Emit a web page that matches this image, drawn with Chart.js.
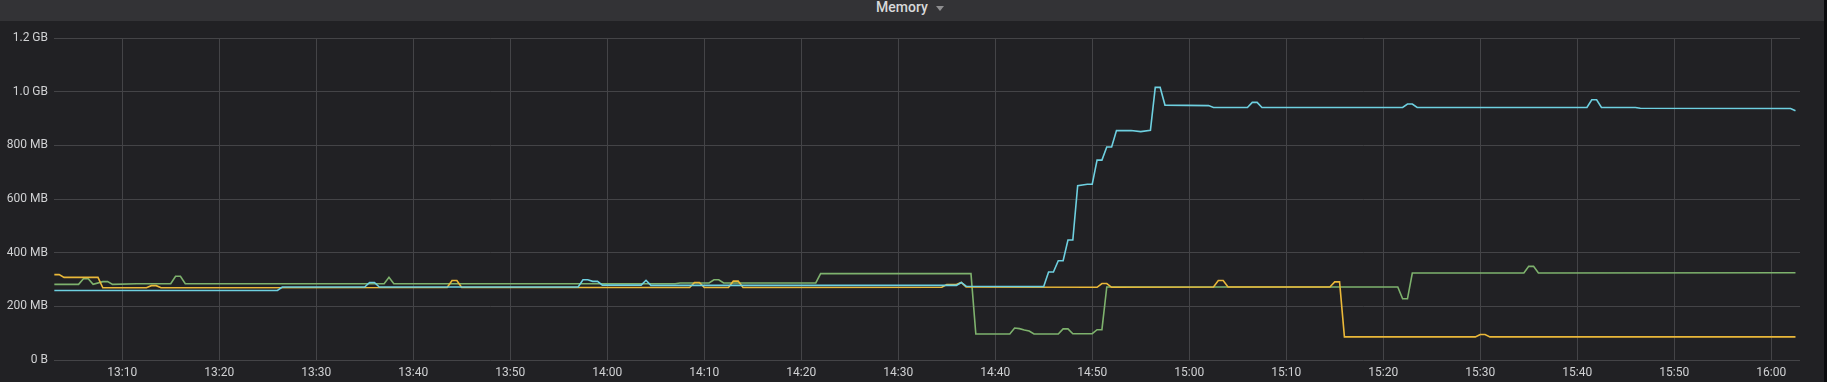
<!DOCTYPE html>
<html>
<head>
<meta charset="utf-8">
<title>Memory</title>
<script src="https://cdn.jsdelivr.net/npm/chart.js@4.4.1/dist/chart.umd.min.js"></script>
<style>
  html, body { margin: 0; padding: 0; background: #0b0c0e; }
  body { width: 1827px; height: 382px; overflow: hidden; font-family: Roboto, "Noto Sans", sans-serif; }
  .panel { position: absolute; left: 0; top: 0; width: 1824px; height: 382px; background: #212124; }
  .panel-title { position: absolute; left: 0; top: 0; width: 1824px; height: 21px; background: #333336; }
  .panel-title span { position: absolute; left: 876px; top: 0; font-size: 14px; line-height: 15px; font-weight: 500; color: #d8d9da; }
  .panel-title i { position: absolute; left: 936px; top: 6px; width: 0; height: 0;
    border-left: 4px solid transparent; border-right: 4px solid transparent; border-top: 5px solid #8e8e90; }
  .chart-box { position: absolute; left: 0; top: 21px; width: 1824px; height: 361px; }
</style>
</head>
<body>
<div class="panel">
  <div class="panel-title"><span>Memory</span><i></i></div>
  <div class="chart-box"><canvas id="memChart"></canvas></div>
</div>
<script>
const greenTimes = ['13:03:00','13:05:30','13:06:00','13:06:30','13:07:00','13:08:00','13:08:30','13:09:00',
  '13:11:30','13:15:00','13:15:30','13:16:00','13:16:30','13:37:00','13:37:30','13:38:00','14:07:00','14:07:30',
  '14:10:30','14:11:00','14:11:30','14:12:00','14:21:30','14:22:00','14:37:30','14:38:00','14:41:30','14:42:00',
  '14:42:30','14:43:00','14:43:30','14:44:00','14:46:30','14:47:00','14:47:30','14:48:00','14:50:00','14:50:30',
  '14:51:00','14:51:30','15:21:30','15:22:00','15:22:30','15:23:00','15:34:30','15:35:00','15:35:30','15:36:00',
  '16:02:30'];
const greenValues = [282, 282, 303, 303, 282, 292, 292, 282,
  284, 284, 312, 312, 284, 284, 308, 284, 284, 287,
  287, 299, 299, 287, 287, 322, 322, 97, 97, 119,
  117, 112, 108, 97, 97, 116, 116, 98, 98, 113,
  113, 272, 272, 228, 228, 324, 324, 349, 349, 324,
  325];

const yellowTimes = ['13:03:00','13:03:30','13:04:00','13:07:30','13:08:00','13:12:30','13:13:00','13:13:30',
  '13:14:00','13:43:30','13:44:00','13:44:30','13:45:00','14:08:30','14:09:00','14:09:30','14:10:00','14:12:30',
  '14:13:00','14:13:30','14:14:00','14:34:30','14:35:00','14:36:00','14:36:30','14:37:00','14:50:30','14:51:00',
  '14:51:30','14:52:00','15:02:30','15:03:00','15:03:30','15:04:00','15:14:30','15:15:00','15:15:30','15:16:00',
  '15:29:30','15:30:00','15:30:30','15:31:00','16:02:30'];
const yellowValues = [318, 318, 308, 308, 269, 269, 277, 277,
  269, 270, 296, 296, 270, 270, 289, 289, 270, 270,
  294, 294, 270, 271, 281, 281, 289, 272, 271, 285,
  285, 271, 272, 296, 296, 272, 272, 291, 291, 86,
  86, 95, 95, 86, 86];

const cyanTimes = ['13:03:00','13:26:00','13:26:30','13:35:00','13:35:30','13:36:00','13:36:30','13:57:00',
  '13:57:30','13:58:00','13:58:30','13:59:00','13:59:30','14:03:30','14:04:00','14:04:30','14:36:00','14:36:30',
  '14:37:00','14:45:00','14:45:30','14:46:00','14:46:30','14:47:00','14:47:30','14:48:00','14:48:30','14:49:30',
  '14:50:00','14:50:30','14:51:00','14:51:30','14:52:00','14:52:30','14:54:00','14:55:00','14:56:00','14:56:30',
  '14:57:00','14:57:30','15:02:00','15:02:30','15:06:00','15:06:30','15:07:00','15:07:30','15:22:00','15:22:30',
  '15:23:00','15:23:30','15:41:00','15:41:30','15:42:00','15:42:30','15:46:00','15:46:30','16:02:00','16:02:30'];
const cyanValues = [259, 259, 272, 272, 289, 289, 272, 272,
  299, 299, 293, 293, 279, 279, 297, 278, 278, 289,
  275, 274, 328, 328, 370, 370, 447, 447, 650, 655,
  655, 745, 745, 794, 794, 855, 855, 851, 856, 1016,
  1016, 950, 948, 941, 941, 960, 960, 941, 941, 954,
  954, 941, 941, 970, 970, 941, 941, 938, 937, 929];

const timeTicks = ['13:10','13:20','13:30','13:40','13:50','14:00','14:10','14:20','14:30',
  '14:40','14:50','15:00','15:10','15:20','15:30','15:40','15:50','16:00'];
const memTicks = [0, 200, 400, 600, 800, 1000, 1200];

const toMin = s => {
  const p = s.split(':').map(Number);
  return p[0] * 60 + p[1] + (p[2] || 0) / 60;
};
const fmtTime = v => {
  const h = Math.floor(v / 60), m = Math.round(v - h * 60);
  return h + ':' + String(m).padStart(2, '0');
};
const fmtMem = v => v === 0 ? '0 B' : v >= 1000 ? (v / 1000).toFixed(1) + ' GB' : v + ' MB';
const pts = (times, vals) => times.map((t, i) => ({ x: toMin(t), y: vals[i] }));

Chart.defaults.font.family = 'Roboto';
Chart.defaults.font.size = 12;
Chart.defaults.color = '#d0d1d3';

const gridColor = '#444447';

new Chart(document.getElementById('memChart'), {
  type: 'line',
  data: {
    datasets: [
      { label: 'A', data: pts(greenTimes, greenValues), borderColor: '#7eb26d', order: 3 },
      { label: 'B', data: pts(yellowTimes, yellowValues), borderColor: '#eab839', order: 2 },
      { label: 'C', data: pts(cyanTimes, cyanValues), borderColor: '#6ed0e0', order: 1 }
    ]
  },
  options: {
    responsive: true,
    maintainAspectRatio: false,
    animation: false,
    parsing: false,
    elements: {
      line: { borderWidth: 1.6, tension: 0, fill: false },
      point: { radius: 0 }
    },
    layout: { padding: { top: 17, right: 24, left: 0, bottom: 0 } },
    plugins: { legend: { display: false }, tooltip: { enabled: false } },
    scales: {
      x: {
        type: 'linear',
        min: toMin('13:02:58'),
        max: toMin('16:02:58'),
        afterBuildTicks: axis => { axis.ticks = timeTicks.map(t => ({ value: toMin(t) })); },
        afterFit: axis => { axis.height = 22; },
        border: { display: false },
        grid: { color: gridColor, drawTicks: false },
        ticks: { autoSkip: false, maxRotation: 0, padding: 6, callback: v => fmtTime(v) }
      },
      y: {
        min: 0,
        max: 1200,
        afterBuildTicks: axis => { axis.ticks = memTicks.map(v => ({ value: v })); },
        afterFit: axis => { axis.width = 54; },
        border: { display: false },
        grid: { color: gridColor, drawTicks: false },
        ticks: { padding: 6, callback: v => fmtMem(v) }
      }
    }
  }
});
</script>
</body>
</html>
